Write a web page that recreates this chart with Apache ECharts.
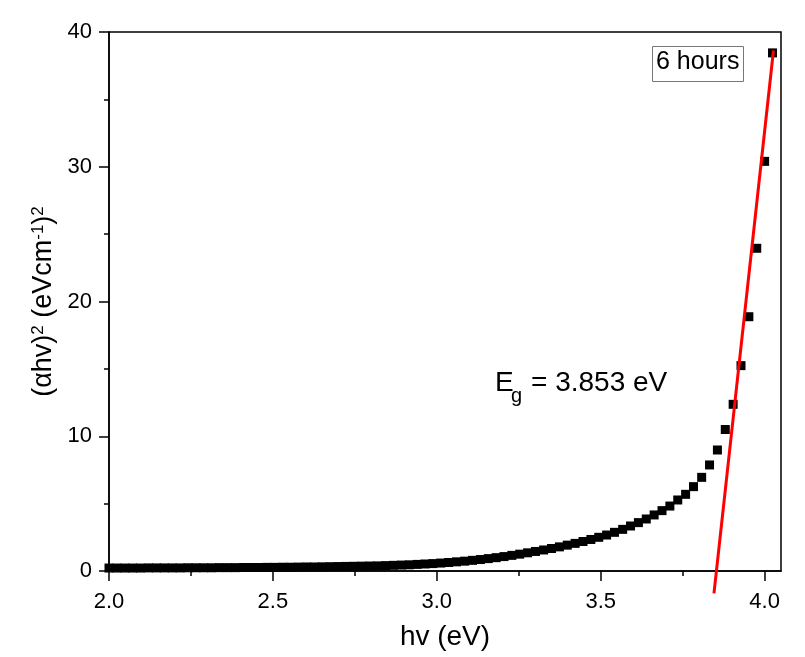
<!DOCTYPE html>
<html>
<head>
<meta charset="utf-8">
<title>Tauc plot</title>
<script src="https://cdn.jsdelivr.net/npm/echarts@6/dist/echarts.min.js"></script>
<style>
  html, body { margin: 0; padding: 0; background: #fff; }
  #chart { width: 805px; height: 657px; }
</style>
</head>
<body>
<div id="chart"></div>
<script>
// Photon energy hv (eV)
const photonEnergy = [
  2.000, 2.024, 2.048, 2.072, 2.096, 2.121, 2.145, 2.169, 2.193, 2.217,
  2.241, 2.265, 2.289, 2.313, 2.337, 2.362, 2.386, 2.410, 2.434, 2.458,
  2.482, 2.506, 2.530, 2.554, 2.578, 2.603, 2.627, 2.651, 2.675, 2.699,
  2.723, 2.747, 2.771, 2.795, 2.819, 2.844, 2.868, 2.892, 2.916, 2.940,
  2.964, 2.988, 3.012, 3.036, 3.060, 3.085, 3.109, 3.133, 3.157, 3.181,
  3.205, 3.229, 3.253, 3.277, 3.301, 3.326, 3.350, 3.374, 3.398, 3.422,
  3.446, 3.470, 3.494, 3.518, 3.542, 3.567, 3.591, 3.615, 3.639, 3.663,
  3.687, 3.711, 3.735, 3.759, 3.783, 3.808, 3.832, 3.856, 3.880, 3.904,
  3.928, 3.952, 3.976, 4.000, 4.024
];

// (alpha hv)^2 (eV cm^-1)^2
const taucValue = [
  0.22, 0.22, 0.22, 0.22, 0.22, 0.23, 0.23, 0.23, 0.23, 0.23,
  0.24, 0.24, 0.24, 0.24, 0.25, 0.25, 0.25, 0.26, 0.26, 0.26,
  0.27, 0.27, 0.28, 0.28, 0.29, 0.30, 0.30, 0.31, 0.32, 0.33,
  0.34, 0.35, 0.36, 0.37, 0.38, 0.40, 0.42, 0.44, 0.46, 0.49,
  0.52, 0.55, 0.59, 0.63, 0.68, 0.73, 0.79, 0.85, 0.92, 0.99,
  1.07, 1.16, 1.25, 1.35, 1.45, 1.56, 1.67, 1.79, 1.92, 2.05,
  2.19, 2.34, 2.50, 2.67, 2.87, 3.09, 3.34, 3.59, 3.86, 4.16,
  4.48, 4.82, 5.27, 5.69, 6.26, 6.95, 7.87, 8.98, 10.50, 12.37,
  15.24, 18.87, 23.95, 30.40, 38.45
];

// Linear fit of the absorption edge; its x-intercept is the band gap
const bandGap = 3.853;
const fitSlope = 222;
const fitRangeX = [3.8455, 4.027];

const majorTicksX = [2.0, 2.5, 3.0, 3.5, 4.0];
const minorTicksX = [2.25, 2.75, 3.25, 3.75];

const FONT = '"Liberation Sans", Arial, sans-serif';

const points = photonEnergy.map((x, i) => [x, taucValue[i]]);
const fitLine = fitRangeX.map(x => [x, fitSlope * (x - bandGap)]);

const chart = echarts.init(document.getElementById('chart'));

const axisLineStyle = { color: '#000', width: 1.5 };

chart.setOption({
  backgroundColor: '#fff',
  animation: false,
  grid: {
    left: 109, right: 24, top: 32, bottom: 86,
    show: true, borderColor: '#000', borderWidth: 1.5,
    backgroundColor: 'transparent'
  },
  xAxis: [
    {
      type: 'value', min: 2, max: 4.05,
      axisLine: { show: true, onZero: false, lineStyle: axisLineStyle },
      axisTick: { show: true, customValues: majorTicksX, length: 10, lineStyle: axisLineStyle },
      axisLabel: {
        customValues: majorTicksX,
        formatter: v => v.toFixed(1),
        margin: 20, fontSize: 22, color: '#000', fontFamily: FONT
      },
      splitLine: { show: false },
      name: 'hv (eV)', nameLocation: 'middle', nameGap: 52,
      nameTextStyle: { fontSize: 28, color: '#000', fontFamily: FONT }
    },
    {
      type: 'value', min: 2, max: 4.05, position: 'bottom',
      axisLine: { show: false },
      axisTick: { show: true, customValues: minorTicksX, length: 5, lineStyle: axisLineStyle },
      axisLabel: { show: false },
      splitLine: { show: false }
    }
  ],
  yAxis: {
    type: 'value', min: 0, max: 40, interval: 10,
    axisLine: { show: true, lineStyle: axisLineStyle },
    axisTick: { show: true, length: 10, lineStyle: axisLineStyle },
    minorTick: { show: true, splitNumber: 2, length: 5, lineStyle: axisLineStyle },
    axisLabel: { margin: 17, fontSize: 22, color: '#000', fontFamily: FONT },
    splitLine: { show: false },
    name: '(αhv){sup|2} (eVcm{sup|-1}){sup|2}',
    nameLocation: 'middle', nameGap: 50,
    nameTextStyle: {
      fontSize: 27, color: '#000', fontFamily: FONT,
      rich: { sup: { fontSize: 17, color: '#000', fontFamily: FONT, verticalAlign: 'top' } }
    }
  },
  series: [
    {
      type: 'scatter', xAxisIndex: 0, data: points,
      symbol: 'rect', symbolSize: 9,
      itemStyle: { color: '#000', opacity: 1 }, silent: true
    },
    {
      type: 'line', xAxisIndex: 0, data: fitLine, clip: false,
      symbol: 'none', lineStyle: { color: '#ff0000', width: 3 }, z: 5, silent: true
    }
  ],
  graphic: [
    // band-gap annotation
    { type: 'text', left: 495, top: 369, style: { text: 'E', fontSize: 28, fill: '#000', fontFamily: FONT } },
    { type: 'text', left: 511, top: 386, style: { text: 'g', fontSize: 20, fill: '#000', fontFamily: FONT } },
    { type: 'text', left: 531, top: 369, style: { text: '= ' + bandGap.toFixed(3) + ' eV', fontSize: 28, fill: '#000', fontFamily: FONT } },
    // sample legend box
    {
      type: 'rect', left: 652, top: 46,
      shape: { width: 91, height: 35 },
      style: { fill: '#fff', stroke: '#777', lineWidth: 1 }
    },
    {
      type: 'text', left: 656, top: 50,
      style: { text: '6 hours', fontSize: 25, fill: '#000', fontFamily: FONT }
    }
  ]
});
</script>
</body>
</html>
